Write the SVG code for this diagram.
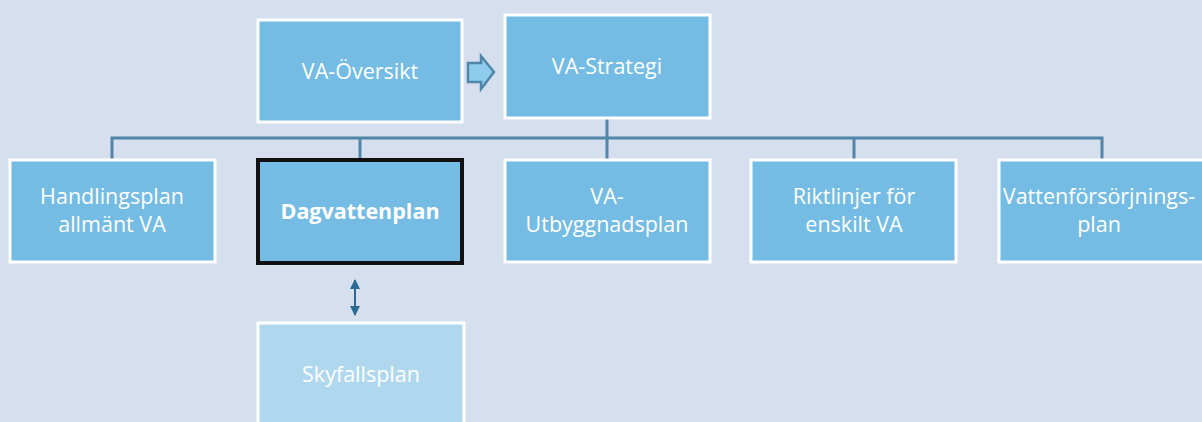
<svg xmlns="http://www.w3.org/2000/svg" width="1202" height="422" viewBox="0 0 1202 422">
<style>
.box{fill:#74bce3;stroke:#ffffff;stroke-width:3}
.sel{fill:#74bce3;stroke:#111111;stroke-width:4}
.light{fill:#afd8ef;stroke:#ffffff;stroke-width:3}
.t{font-family:"Open Sans","Liberation Sans",sans-serif;font-size:21.5px;fill:#ffffff;text-anchor:middle}
.b{font-weight:bold}
.c{fill:none;stroke:#4f86aa;stroke-width:3}
</style>
<defs>
<marker id="ah" viewBox="0 0 10 10" refX="9" refY="5" markerWidth="5" markerHeight="5.5" orient="auto-start-reverse">
<path d="M0,0 L10,5 L0,10 z" fill="#2a6a94"/>
</marker>
</defs>
<rect width="1202" height="422" fill="#d6dfee"/>
<g id="connectors">
<path class="c" d="M607,118 V138 M112,160 V138 H1102 V160 M360,138 V158 M607,138 V160 M854,138 V160"/>
<path d="M468,63 H481 V56 L494,72 L481,89 V82 H468 Z" fill="#8ecbec" stroke="#4f86aa" stroke-width="2.5"/>
<line x1="355" y1="280" x2="355" y2="315" stroke="#2a6a94" stroke-width="2" marker-start="url(#ah)" marker-end="url(#ah)"/>
</g>
<g id="va-oversikt"><rect class="box" x="258" y="20" width="204" height="102"/><text class="t" x="360" y="79">VA-Översikt</text></g>
<g id="va-strategi"><rect class="box" x="505" y="15" width="205" height="103"/><text class="t" x="607" y="74">VA-Strategi</text></g>
<g id="handlingsplan"><rect class="box" x="10" y="160" width="205" height="102"/><text class="t" x="112" y="204">Handlingsplan</text><text class="t" x="112" y="232">allmänt VA</text></g>
<g id="dagvattenplan"><rect class="sel" x="258" y="160" width="204" height="103"/><text class="t b" x="360" y="219">Dagvattenplan</text></g>
<g id="va-utbyggnadsplan"><rect class="box" x="505" y="160" width="205" height="102"/><text class="t" x="607" y="204">VA-</text><text class="t" x="607" y="232">Utbyggnadsplan</text></g>
<g id="riktlinjer"><rect class="box" x="751" y="160" width="205" height="102"/><text class="t" x="854" y="204">Riktlinjer för</text><text class="t" x="854" y="232">enskilt VA</text></g>
<g id="vattenforsorjningsplan"><rect class="box" x="999" y="160" width="206" height="102"/><text class="t" x="1099" y="204">Vattenförsörjnings-</text><text class="t" x="1099" y="232">plan</text></g>
<g id="skyfallsplan"><rect class="light" x="258" y="323" width="206" height="110"/><text class="t" x="361" y="382">Skyfallsplan</text></g>
</svg>
